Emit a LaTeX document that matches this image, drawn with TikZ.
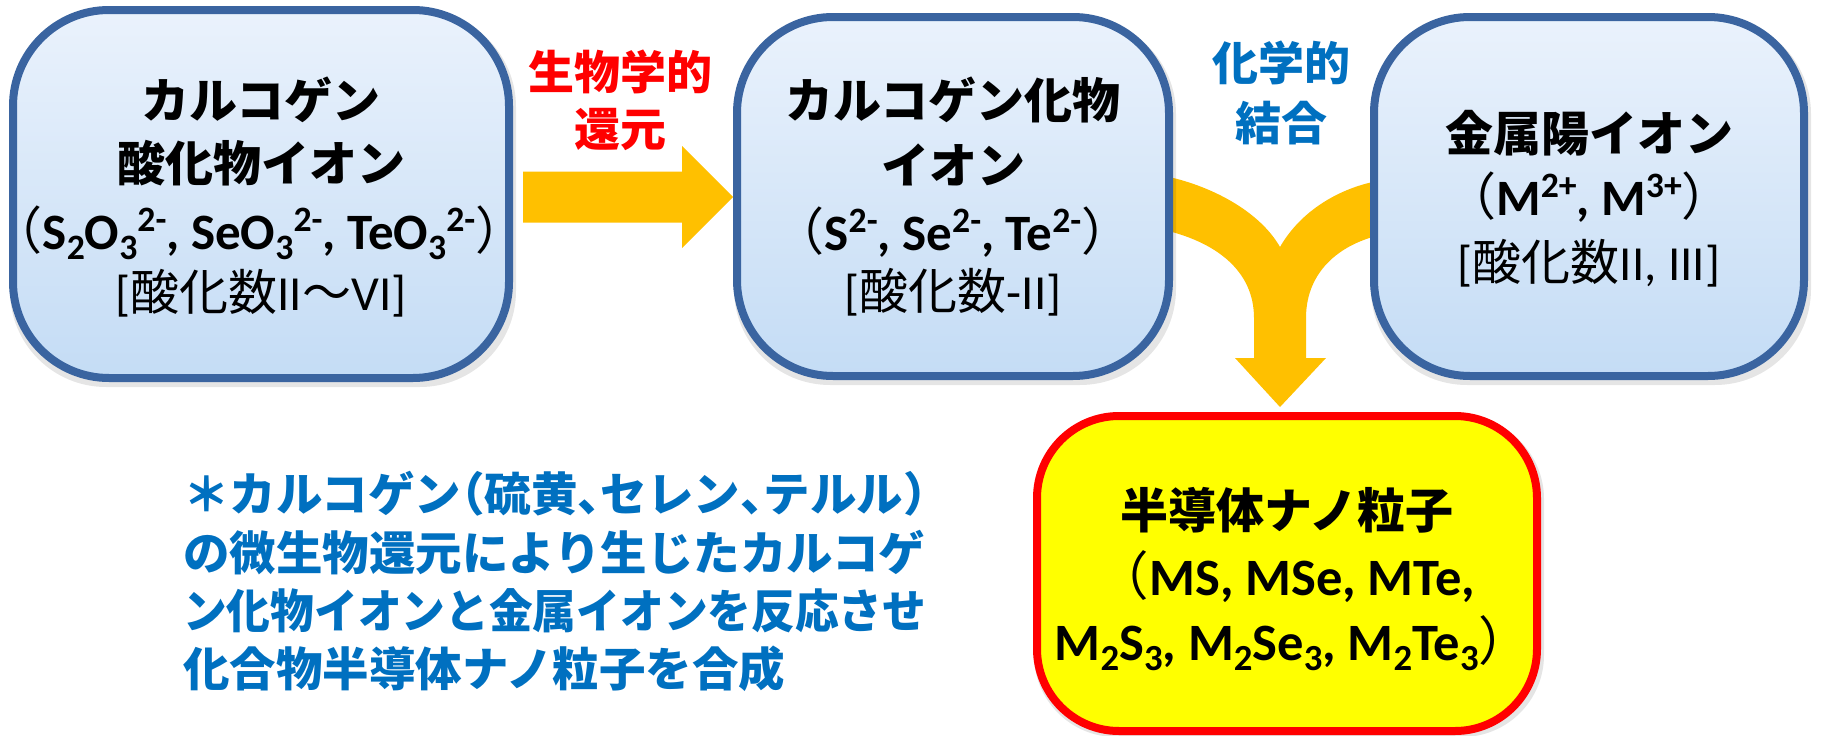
\documentclass[tikz,border=0pt]{standalone}
\usepackage{fontspec}
\usepackage{graphicx}
\setmainfont{Carlito}
\newfontfamily\jp{Noto Sans CJK JP}
\newfontfamily\jph{Noto Sans CJK JP}[RawFeature=+halt]
\definecolor{bord}{RGB}{58,100,160}
\definecolor{ftop}{RGB}{234,242,252}
\definecolor{fbot}{RGB}{196,220,245}
\definecolor{arr}{RGB}{255,192,0}
\definecolor{tblue}{RGB}{0,112,192}
\definecolor{tred}{RGB}{255,0,0}
\definecolor{yel}{RGB}{255,255,0}
\newcommand\lo[1]{\raisebox{-0.2em}{\scalebox{0.7}{#1}}}
\newcommand\hi[1]{\raisebox{0.36em}{\scalebox{0.7}{#1}}}
\newcommand\J[1]{{\jp #1}}
\newcommand\HW[1]{{\jph #1}}
\tikzset{
  bluebox/.style={rectangle, rounded corners=96pt, draw=bord, line width=8pt,
    top color=ftop, bottom color=fbot, inner sep=0pt},
  yelbox/.style={rectangle, rounded corners=82pt, draw=tred, line width=8pt,
    fill=yel, inner sep=0pt},
  shadowbox/.style={rectangle, inner sep=0pt, fill=black, opacity=0.10, draw=none},
  ttl/.style={font=\jp\bfseries\fontsize{48pt}{48pt}\selectfont, inner sep=0pt},
  frm/.style={font=\bfseries\fontsize{51pt}{51pt}\selectfont, inner sep=0pt},
  frmb/.style={font=\bfseries\fontsize{52.5pt}{52.5pt}\selectfont, inner sep=0pt},
  brk/.style={font=\fontsize{49pt}{49pt}\selectfont, inner sep=0pt},
  lab/.style={font=\jp\bfseries\fontsize{46pt}{46pt}\selectfont, inner sep=0pt},
  note/.style={font=\jp\bfseries\fontsize{46.5pt}{46.5pt}\selectfont, text=tblue, inner sep=0pt, anchor=west},
  blockarrow/.style={fill=arr, draw=none},
}
\begin{document}
\begin{tikzpicture}[x=1pt,y=-1pt]
\useasboundingbox (0,0) rectangle (1824,736);
\fill[white] (0,0) rectangle (1824,736);

% merging arrow
\fill[blockarrow] (1160,175) .. controls (1212,185) and (1260,212) .. (1280,247)
  .. controls (1300,212) and (1340,185) .. (1390,179)
  -- (1390,233) .. controls (1342,241) and (1306,270) .. (1306,318)
  -- (1306,358) -- (1326,358) -- (1280,407) -- (1235,358) -- (1254,358) -- (1254,318)
  .. controls (1254,270) and (1215,241) .. (1160,229) -- cycle;

% shadows
\foreach \cx/\cy/\w/\h/\r in {261/194/496/368/96, 953/196.5/432/359/96, 1589/196.5/430/359/96}{
  \node[shadowbox, rounded corners=\r pt, minimum width=\w pt+10pt, minimum height=\h pt+8pt] at (\cx+2,\cy+5) {};
}
\node[shadowbox, rounded corners=82pt, minimum width=510pt, minimum height=320pt] at (1289,577) {};

% boxes
\node[bluebox, minimum width=496pt, minimum height=368pt] (b1) at (261,194) {};
\node[bluebox, minimum width=432pt, minimum height=359pt] (b2) at (953,196.5) {};
\node[bluebox, minimum width=430pt, minimum height=359pt] (b3) at (1589,196.5) {};
\node[yelbox, minimum width=500pt, minimum height=315pt] (b4) at (1287,573.5) {};

% straight arrow
\fill[blockarrow] (523,171.5) -- (682,171.5) -- (682,146) -- (733,197) -- (682,248) -- (682,222.5) -- (523,222.5) -- cycle;

% box 1 text
\node[ttl] (t11) at (261,100) {カルコゲン};
\node[ttl] (t12) at (261,163) {酸化物イオン};
\node[frm] (t13) at (259,233) {\J{\mdseries （}S\lo{2}O\lo{3}\hi{2-}, SeO\lo{3}\hi{2-}, TeO\lo{3}\hi{2-}\J{\mdseries ）}};
\node[brk] (t14) at (261,293) {[\J{酸化数}II\J{〜}VI]};

% box 2 text
\node[ttl] (t21) at (953,100) {カルコゲン化物};
\node[ttl] (t22) at (953,165) {イオン};
\node[frm] (t23) at (953,232) {\J{\mdseries （}S\hi{2-}, Se\hi{2-}, Te\hi{2-}\J{\mdseries ）}};
\node[brk] (t24) at (953,292) {[\J{酸化数}-II]};

% box 3 text
\node[ttl] (t31) at (1589,133) {金属陽イオン};
\node[frm] (t32) at (1589,197) {\J{\mdseries （}M\hi{2+}, M\hi{3+}\J{\mdseries ）}};
\node[brk] (t33) at (1589,263) {[\J{酸化数}II, III]};

% box 4 text
\node[ttl] (t41) at (1287,510) {半導体ナノ粒子};
\node[frmb] (t42) at (1286,577) {\J{\mdseries （}MS, MSe, MTe,};
\node[frmb] (t43) at (1293,643) {M\lo{2}S\lo{3}, M\lo{2}Se\lo{3}, M\lo{2}Te\lo{3}\J{\mdseries ）}};

% labels
\node[lab, text=tred] (l1) at (620,72) {生物学的};
\node[lab, text=tred] (l2) at (620,130) {還元};
\node[lab, text=tblue] (l3) at (1281,63) {化学的};
\node[lab, text=tblue] (l4) at (1281,123) {結合};

% note
\node[note] (n1) at (183,494) {＊カルコゲン\HW{（}硫黄\HW{、}セレン\HW{、}テルル\HW{）}};
\node[note] (n2) at (183,553) {の微生物還元により生じたカルコゲ};
\node[note] (n3) at (183,611) {\scalebox{0.94}[1]{ン化物イオンと金属イオンを反応させ}};
\node[note] (n4) at (183,669) {化合物半導体ナノ粒子を合成};
\end{tikzpicture}
\end{document}
